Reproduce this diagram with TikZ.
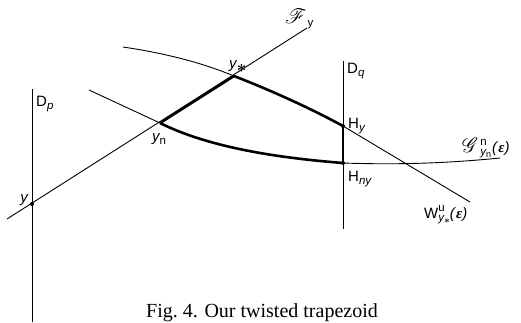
\documentclass[tikz,border=0pt]{standalone}
\usepackage{amsmath,amssymb,bm}
\usepackage{mathrsfs}
\usepackage{fontspec}
\setmainfont{Liberation Serif}
\setsansfont{Liberation Sans}
\newcommand\lsub[1]{\raisebox{-3.5pt}{\fontsize{11.5}{12}\selectfont #1}}
\newcommand\lsup[1]{\raisebox{7pt}{\fontsize{11.5}{12}\selectfont #1}}
\newcommand\lstar{\raisebox{-4pt}{\fontsize{16}{16}\selectfont$\bm{\ast}$}}
\newcommand\leps{\textit{(}{\fontspec{Liberation Serif}\bfseries\itshape ε}\textit{)}}
\newcommand\bigscr[1]{{\fontsize{20}{20}\selectfont$\mathscr{#1}$}}
\begin{document}
\begin{tikzpicture}[x=1pt,y=-1pt,
  thin line/.style={line width=0.9pt},
  thick line/.style={line width=2.6pt},
  pt/.style={circle,fill,inner sep=0pt,minimum size=4pt},
  lab/.style={font=\sffamily\fontsize{15}{16}\selectfont,inner sep=1pt}]
\useasboundingbox (0,0) rectangle (521,322);
% named points
\coordinate (Fa) at (7,219);
\coordinate (Fb) at (307,28);
\node[pt] (y) at (32,204) {};
\coordinate (yn) at (160,123);
\coordinate (ys) at (234,76);
\node[pt] (Hy) at (343,126) {};
\node[pt] (Hny) at (343,163) {};
\coordinate (Dpt) at (32,89);
\coordinate (Dpb) at (32,322);
\coordinate (Dqt) at (343,61);
\coordinate (Dqb) at (343,229);
\coordinate (Wa) at (123,47);
\coordinate (Wb) at (470,202);
\coordinate (Ga) at (89,90);
\coordinate (Gb) at (500,158);
% vertical lines
\draw[thin line] (Dpt) -- (Dpb);
\draw[thin line] (Dqt) -- (Dqb);
% F line
\draw[thin line] (Fa) -- (Fb);
% W curve
\draw[thin line] (Wa) .. controls (170,54) and (205,64) .. (ys);
\draw[thin line] (Hy.center) -- (Wb);
% G curve
\draw[thin line] (Ga) -- (yn);
\draw[thin line] (Hny.center) .. controls (400,165) and (450,163) .. (Gb);
% thick trapezoid
\draw[thick line] (yn) -- (ys);
\draw[thick line] (ys) .. controls (270,90) and (310,108) .. (Hy.center);
\draw[thick line] (yn) .. controls (210,148) and (280,158) .. (Hny.center);
\draw[thick line] (Hy.center) -- (Hny.center);
% labels
\node[lab,anchor=base west] (lDp) at (35,106) {D\lsub{\itshape p}};
\node[lab,anchor=base west] (lDq) at (346,73) {D\lsub{\itshape q}};
\node[lab,anchor=base west] (lHy) at (347,128) {H\lsub{\itshape y}};
\node[lab,anchor=base west] (lHny) at (347,181) {H\lsub{\itshape ny}};
\node[lab,anchor=base] (ly) at (24,202) {\itshape y};
\node[lab,anchor=base west] (lyn) at (151,141) {{\itshape y}\lsub{n}};
\node[lab,anchor=base west] (lys) at (228,68) {{\itshape y}\lstar};
\node[lab,anchor=base west] (lF) at (284,23) {\bigscr{F}\kern1pt\lsub{y}};
\node[lab,anchor=base west,inner sep=0pt] (lG) at (462,152) {\bigscr{G}\kern2pt\rlap{\lsup{n}}\lsub{{\itshape y}\raisebox{-2pt}{\fontsize{9}{10}\selectfont n}}\kern1pt\leps};
\node[lab,anchor=base west,inner sep=0pt] (lW) at (424,218) {W\rlap{\lsup{u}}\lsub{{\itshape y}\raisebox{-2pt}{\fontsize{10}{10}\selectfont$\bm{\ast}$}}\leps};
\node[font=\fontsize{20}{22}\selectfont,inner sep=0pt,anchor=base] (cap) at (262,317) {Fig.\ 4. Our twisted trapezoid};
\end{tikzpicture}
\end{document}
